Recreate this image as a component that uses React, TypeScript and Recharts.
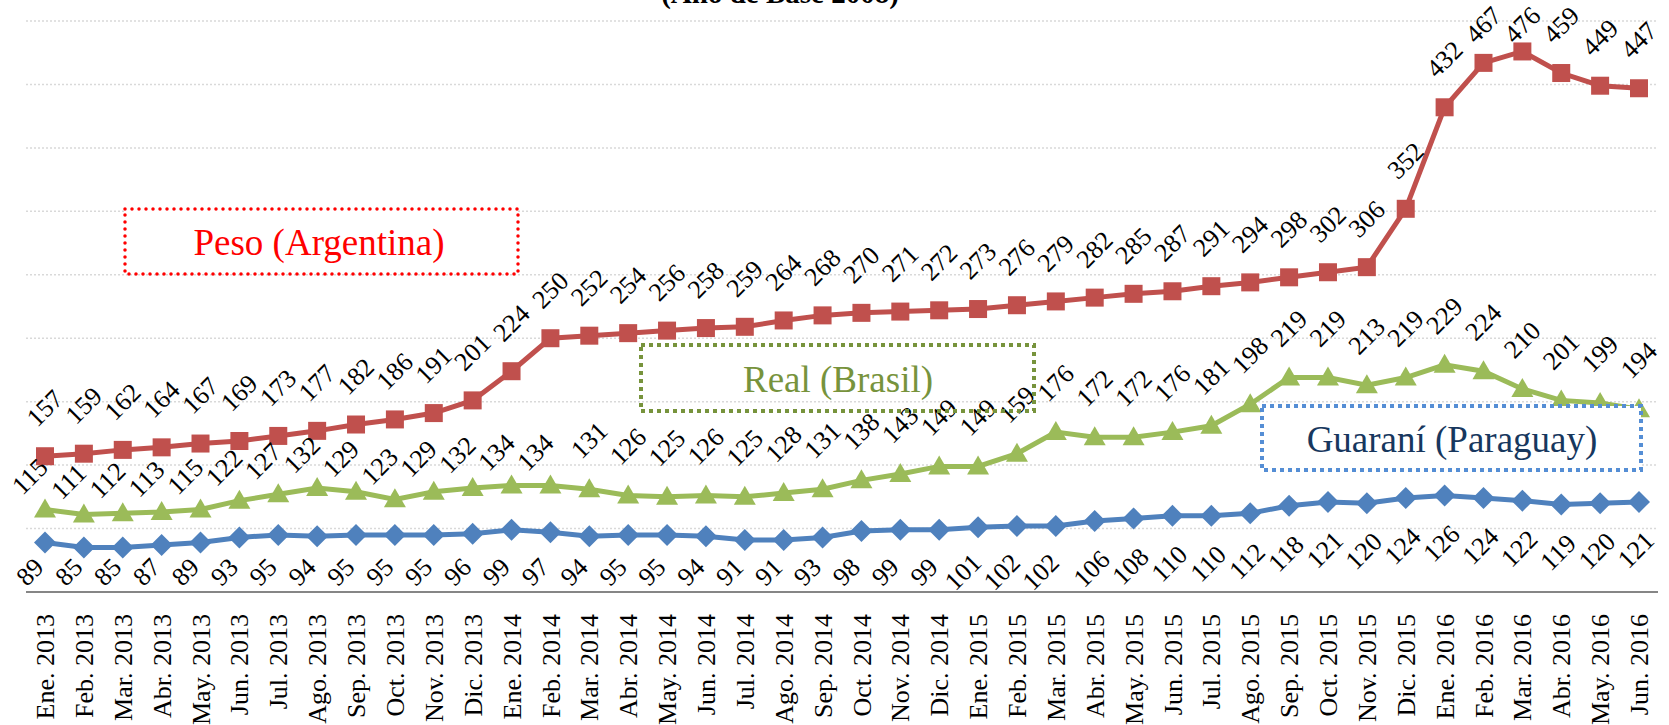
import { LineChart, Line, XAxis, YAxis, CartesianGrid, LabelList } from "recharts";

const categories = [
  "Ene. 2013", "Feb. 2013", "Mar. 2013", "Abr. 2013", "May. 2013", "Jun. 2013",
  "Jul. 2013", "Ago. 2013", "Sep. 2013", "Oct. 2013", "Nov. 2013", "Dic. 2013",
  "Ene. 2014", "Feb. 2014", "Mar. 2014", "Abr. 2014", "May. 2014", "Jun. 2014",
  "Jul. 2014", "Ago. 2014", "Sep. 2014", "Oct. 2014", "Nov. 2014", "Dic. 2014",
  "Ene. 2015", "Feb. 2015", "Mar. 2015", "Abr. 2015", "May. 2015", "Jun. 2015",
  "Jul. 2015", "Ago. 2015", "Sep. 2015", "Oct. 2015", "Nov. 2015", "Dic. 2015",
  "Ene. 2016", "Feb. 2016", "Mar. 2016", "Abr. 2016", "May. 2016", "Jun. 2016",
];

const pesoArgentina = [
  157, 159, 162, 164, 167, 169, 173, 177, 182, 186, 191, 201,
  224, 250, 252, 254, 256, 258, 259, 264, 268, 270, 271, 272,
  273, 276, 279, 282, 285, 287, 291, 294, 298, 302, 306, 352,
  432, 467, 476, 459, 449, 447,
];

const realBrasil = [
  115, 111, 112, 113, 115, 122, 127, 132, 129, 123, 129, 132,
  134, 134, 131, 126, 125, 126, 125, 128, 131, 138, 143, 149,
  149, 159, 176, 172, 172, 176, 181, 198, 219, 219, 213, 219,
  229, 224, 210, 201, 199, 194,
];

const guaraniParaguay = [
  89, 85, 85, 87, 89, 93, 95, 94, 95, 95, 95, 96,
  99, 97, 94, 95, 95, 94, 91, 91, 93, 98, 99, 99,
  101, 102, 102, 106, 108, 110, 110, 112, 118, 121, 120, 124,
  126, 124, 122, 119, 120, 121,
];

const yTicks = [50, 100, 150, 200, 250, 300, 350, 400, 450, 500];

const title = "(Año de Base 2008)";

const data = categories.map((name, i) => ({
  name,
  peso: pesoArgentina[i],
  real: realBrasil[i],
  guarani: guaraniParaguay[i],
}));

const RED = "#C0504D";
const GREEN = "#9BBB59";
const BLUE = "#4F81BD";
const FONT = "'Liberation Serif', 'Times New Roman', serif";
const AXIS_Y = 592;
const LABEL_SIZE = 26;

const SquareDot = (props: any) => {
  const { cx, cy, index } = props;
  if (cx == null || cy == null) return <g key={index} />;
  return <rect key={index} x={cx - 9} y={cy - 9} width={18} height={18} fill={RED} />;
};

const TriangleDot = (props: any) => {
  const { cx, cy, index } = props;
  if (cx == null || cy == null) return <g key={index} />;
  return (
    <polygon
      key={index}
      points={`${cx},${cy - 11} ${cx + 11},${cy + 8} ${cx - 11},${cy + 8}`}
      fill={GREEN}
    />
  );
};

const DiamondDot = (props: any) => {
  const { cx, cy, index } = props;
  if (cx == null || cy == null) return <g key={index} />;
  return (
    <polygon
      key={index}
      points={`${cx},${cy - 11} ${cx + 11},${cy} ${cx},${cy + 11} ${cx - 11},${cy}`}
      fill={BLUE}
    />
  );
};

const rotatedText = (cx: number, cy: number, value: any, key: any) => (
  <text
    key={key}
    x={cx}
    y={cy}
    transform={`rotate(-45, ${cx}, ${cy})`}
    textAnchor="middle"
    dominantBaseline="central"
    fontFamily={FONT}
    fontSize={LABEL_SIZE}
    fill="#000"
  >
    {value}
  </text>
);

// labels stay inside the picture, like the original does at the peak
const pesoLabel = (props: any) => {
  const { x, y, value, index } = props;
  return rotatedText(x, Math.max(y - 48, 25), value, index);
};

const realLabel = (props: any) => {
  const { x, y, value, index } = props;
  // the 2013 labels sit a bit closer to the line in the original
  if (index < 14) return rotatedText(x - 15, y - 33, value, index);
  return rotatedText(x, y - 49, value, index);
};

const guaraniLabel = (props: any) => {
  const { x, y, value, index } = props;
  const want = y + 48;
  const limit = AXIS_Y - 20;
  if (want > limit) return rotatedText(x - 15, limit, value, index);
  return rotatedText(x - 3, want, value, index);
};

const MonthTick = (props: any) => {
  const { x, y, payload } = props;
  const ty = y + 14;
  return (
    <text
      x={x}
      y={ty}
      dy="0.35em"
      transform={`rotate(-90, ${x}, ${ty})`}
      textAnchor="end"
      fontFamily={FONT}
      fontSize={26}
      fill="#000"
    >
      {payload.value}
    </text>
  );
};

export default function App() {
  return (
    <div
      style={{
        position: "fixed",
        left: 0,
        top: 0,
        width: 1669,
        height: 725,
        background: "#fff",
        fontFamily: FONT,
      }}
    >
      <LineChart
        width={1669}
        height={725}
        data={data}
        margin={{ top: 21, right: 11, bottom: 0, left: 26 }}
      >
        <CartesianGrid
          vertical={false}
          stroke="#D9D9D9"
          strokeDasharray="2 2"
          strokeWidth={1.5}
        />
        <XAxis
          dataKey="name"
          height={133}
          interval={0}
          padding={{ left: 19, right: 19 }}
          tickLine={false}
          axisLine={{ stroke: "#868686", strokeWidth: 2 }}
          tick={<MonthTick />}
        />
        <YAxis hide width={0} domain={[50, 500]} ticks={yTicks} />
        <Line
          dataKey="guarani"
          stroke={BLUE}
          strokeWidth={5}
          dot={DiamondDot}
          isAnimationActive={false}
        >
          <LabelList dataKey="guarani" content={guaraniLabel} />
        </Line>
        <Line
          dataKey="real"
          stroke={GREEN}
          strokeWidth={5}
          dot={TriangleDot}
          isAnimationActive={false}
        >
          <LabelList dataKey="real" content={realLabel} />
        </Line>
        <Line
          dataKey="peso"
          stroke={RED}
          strokeWidth={5}
          dot={SquareDot}
          isAnimationActive={false}
        >
          <LabelList dataKey="peso" content={pesoLabel} />
        </Line>
      </LineChart>

      <svg
        width={1669}
        height={725}
        style={{ position: "absolute", left: 0, top: 0, pointerEvents: "none" }}
      >
        <text
          x={780}
          y={3}
          textAnchor="middle"
          fontFamily={FONT}
          fontSize={29}
          fontWeight="bold"
          fill="#000"
        >
          {title}
        </text>

        <rect
          x={125}
          y={209}
          width={393}
          height={65}
          fill="#fff"
          stroke="#FF0000"
          strokeWidth={3.5}
          strokeDasharray="0 7"
          strokeLinecap="round"
        />
        <text
          x={319}
          y={242}
          textAnchor="middle"
          dominantBaseline="central"
          fontFamily={FONT}
          fontSize={37}
          fill="#FF0000"
        >
          Peso (Argentina)
        </text>

        <rect
          x={641}
          y={345}
          width={393}
          height={66}
          fill="none"
          stroke="#77933C"
          strokeWidth={4}
          strokeDasharray="4 4"
        />
        <text
          x={838}
          y={379}
          textAnchor="middle"
          dominantBaseline="central"
          fontFamily={FONT}
          fontSize={37}
          fill="#77933C"
        >
          Real (Brasil)
        </text>

        <rect
          x={1262}
          y={406}
          width={379}
          height={64}
          fill="#fff"
          stroke="#558ED5"
          strokeWidth={4}
          strokeDasharray="4 4"
        />
        <text
          x={1452}
          y={439}
          textAnchor="middle"
          dominantBaseline="central"
          fontFamily={FONT}
          fontSize={37}
          fill="#17375E"
        >
          Guaraní (Paraguay)
        </text>
      </svg>
    </div>
  );
}
